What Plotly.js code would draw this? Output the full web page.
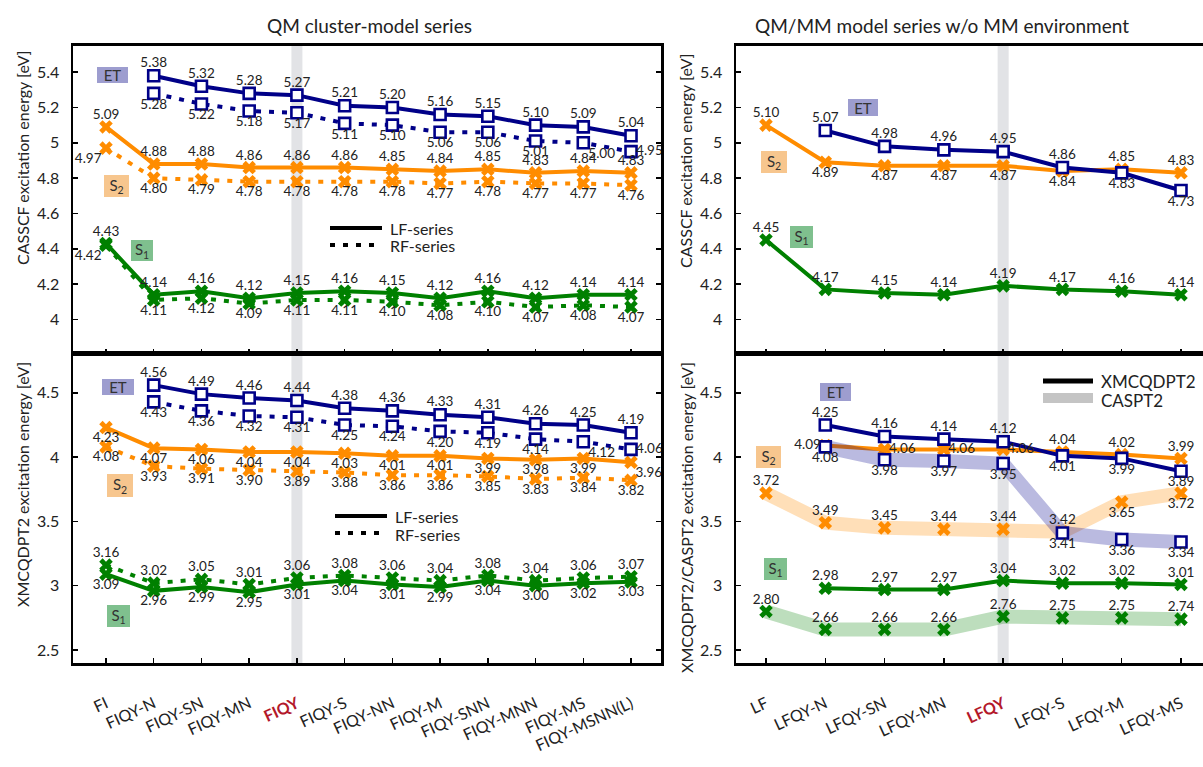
<!DOCTYPE html>
<html><head><meta charset="utf-8">
<script src="https://cdn.plot.ly/plotly-3.0.1.min.js"></script>
<style>html,body{margin:0;padding:0;background:#fff}</style>
</head><body><div id="chart" style="width:1203px;height:767px"></div>
<script>
// ---------------- DATA ----------------
const clusterCats = ['FI','FIQY-N','FIQY-SN','FIQY-MN','FIQY','FIQY-S','FIQY-NN','FIQY-M','FIQY-SNN','FIQY-MNN','FIQY-MS','FIQY-MSNN(L)'];
const qmmmCats = ['LF','LFQY-N','LFQY-SN','LFQY-MN','LFQY','LFQY-S','LFQY-M','LFQY-MS'];
const clusterRef = 'FIQY';
const qmmmRef = 'LFQY';

// QM cluster, CASSCF
const casET_LF = [null,5.38,5.32,5.28,5.27,5.21,5.20,5.16,5.15,5.10,5.09,5.04];
const casET_RF = [null,5.28,5.22,5.18,5.17,5.11,5.10,5.06,5.06,5.01,5.00,4.95];
const casS2_LF = [5.09,4.88,4.88,4.86,4.86,4.86,4.85,4.84,4.85,4.83,4.84,4.83];
const casS2_RF = [4.97,4.80,4.79,4.78,4.78,4.78,4.78,4.77,4.78,4.77,4.77,4.76];
const casS1_LF = [4.43,4.14,4.16,4.12,4.15,4.16,4.15,4.12,4.16,4.12,4.14,4.14];
const casS1_RF = [4.42,4.11,4.12,4.09,4.11,4.11,4.10,4.08,4.10,4.07,4.08,4.07];

// QM cluster, XMCQDPT2
const xmcET_LF = [null,4.56,4.49,4.46,4.44,4.38,4.36,4.33,4.31,4.26,4.25,4.19];
const xmcET_RF = [null,4.43,4.36,4.32,4.31,4.25,4.24,4.20,4.19,4.14,4.12,4.06];
const xmcS2_LF = [4.23,4.07,4.06,4.04,4.04,4.03,4.01,4.01,3.99,3.98,3.99,3.96];
const xmcS2_RF = [4.08,3.93,3.91,3.90,3.89,3.88,3.86,3.86,3.85,3.83,3.84,3.82];
const xmcS1_LF = [3.09,2.96,2.99,2.95,3.01,3.04,3.01,2.99,3.04,3.00,3.02,3.03];
const xmcS1_RF = [3.16,3.02,3.05,3.01,3.06,3.08,3.06,3.04,3.08,3.04,3.06,3.07];

// QM/MM w/o MM, CASSCF
const mmCasET = [null,5.07,4.98,4.96,4.95,4.86,4.83,4.73];
const mmCasS2 = [5.10,4.89,4.87,4.87,4.87,4.84,4.85,4.83];
const mmCasS1 = [4.45,4.17,4.15,4.14,4.19,4.17,4.16,4.14];

// QM/MM w/o MM, XMCQDPT2 and CASPT2
const mmXmcET = [null,4.25,4.16,4.14,4.12,4.01,3.99,3.89];
const mmXmcS2 = [null,4.09,4.06,4.06,4.06,4.04,4.02,3.99];
const mmXmcS1 = [null,2.98,2.97,2.97,3.04,3.02,3.02,3.01];
const mmPt2ET = [null,4.08,3.98,3.97,3.95,3.41,3.36,3.34];
const mmPt2S2 = [3.72,3.49,3.45,3.44,3.44,3.42,3.65,3.72];
const mmPt2S1 = [2.80,2.66,2.66,2.66,2.76,2.75,2.75,2.74];

// ---------------- STYLE ----------------
const F = 'Lato, "Open Sans", sans-serif';
const NAVY = '#000088', ORANGE = '#ff8c00', GREEN = '#008000';
const DOT = '5px,8px';
const W = 1203, H = 767;
const px = x => x / W, py = y => 1 - y / H;

function fill(n, def, over) { const a = Array(n).fill(def); for (const k in (over||{})) a[k] = over[k]; return a; }
const T = 'top center', B = 'bottom center';

const labelTraces = [];
function series(cats, vals, color, kind, dash, xa, ya, pos, mode) {
  labelTraces.push({
    type: 'scatter', mode: 'markers+text', x: cats, y: vals, xaxis: xa, yaxis: ya,
    marker: {size: kind === 'sq' ? 6.5 : 5.5, color: 'rgba(0,0,0,0)'},
    text: vals.map(v => v == null ? '' : v.toFixed(2)),
    textposition: pos, textfont: {family: F, size: 13.5, color: '#222'},
    cliponaxis: false, hoverinfo: 'skip', showlegend: false
  });
  return {
    type: 'scatter', mode: mode || 'lines+markers', x: cats, y: vals, xaxis: xa, yaxis: ya,
    line: {color: color, width: 4, dash: dash || 'solid'},
    marker: kind === 'sq'
      ? {symbol: 'square', size: 11, color: 'white', line: {color: color, width: 2.6}}
      : {symbol: 'x', size: 12, color: color, line: {width: 0}},
    cliponaxis: false, hoverinfo: 'skip', showlegend: false
  };
}
function band(cats, vals, color, xa, ya) {
  return {type: 'scatter', mode: 'lines', x: cats, y: vals, xaxis: xa, yaxis: ya,
    line: {color: color, width: 14}, hoverinfo: 'skip', showlegend: false};
}
function marks(cats, vals, color, kind, xa, ya, pos) {
  return series(cats, vals, color, kind, 'solid', xa, ya, pos, 'markers');
}

const n1 = clusterCats.length, n2 = qmmmCats.length;
const traces = [
  // top-left CASSCF
  series(clusterCats, casS1_RF, GREEN, 'x', DOT, 'x', 'y', fill(n1, B, {0: 'bottom left'})),
  series(clusterCats, casS1_LF, GREEN, 'x', 'solid', 'x', 'y', fill(n1, T)),
  series(clusterCats, casS2_RF, ORANGE, 'x', DOT, 'x', 'y', fill(n1, B, {0: 'bottom left'})),
  series(clusterCats, casS2_LF, ORANGE, 'x', 'solid', 'x', 'y', fill(n1, T)),
  series(clusterCats, casET_RF, NAVY, 'sq', DOT, 'x', 'y', fill(n1, B, {10: 'bottom right', 11: 'middle right'})),
  series(clusterCats, casET_LF, NAVY, 'sq', 'solid', 'x', 'y', fill(n1, T)),
  // bottom-left XMCQDPT2
  series(clusterCats, xmcS1_RF, GREEN, 'x', DOT, 'x2', 'y2', fill(n1, T)),
  series(clusterCats, xmcS1_LF, GREEN, 'x', 'solid', 'x2', 'y2', fill(n1, B)),
  series(clusterCats, xmcS2_RF, ORANGE, 'x', DOT, 'x2', 'y2', fill(n1, B)),
  series(clusterCats, xmcS2_LF, ORANGE, 'x', 'solid', 'x2', 'y2', fill(n1, B, {11: 'bottom right'})),
  series(clusterCats, xmcET_RF, NAVY, 'sq', DOT, 'x2', 'y2', fill(n1, B, {10: 'bottom right', 11: 'middle right'})),
  series(clusterCats, xmcET_LF, NAVY, 'sq', 'solid', 'x2', 'y2', fill(n1, T)),
  // top-right CASSCF
  series(qmmmCats, mmCasS1, GREEN, 'x', 'solid', 'x3', 'y3', fill(n2, T)),
  series(qmmmCats, mmCasS2, ORANGE, 'x', 'solid', 'x3', 'y3', fill(n2, B, {0: T, 6: T, 7: T})),
  series(qmmmCats, mmCasET, NAVY, 'sq', 'solid', 'x3', 'y3', fill(n2, T, {6: B, 7: B})),
  // bottom-right XMCQDPT2 + CASPT2
  series(qmmmCats, mmXmcS1, GREEN, 'x', 'solid', 'x4', 'y4', fill(n2, T)),
  series(qmmmCats, mmXmcS2, ORANGE, 'x', 'solid', 'x4', 'y4', fill(n2, 'middle right', {1: 'middle left', 5: T, 6: T, 7: T})),
  series(qmmmCats, mmXmcET, NAVY, 'sq', 'solid', 'x4', 'y4', fill(n2, T, {5: B, 6: B, 7: B})),
  band(qmmmCats, mmPt2S1, 'rgba(0,128,0,0.26)', 'x4', 'y4'),
  band(qmmmCats, mmPt2S2, 'rgba(255,140,0,0.28)', 'x4', 'y4'),
  band(qmmmCats, mmPt2ET, 'rgba(0,0,140,0.27)', 'x4', 'y4'),
  marks(qmmmCats, mmPt2S1, GREEN, 'x', 'x4', 'y4', fill(n2, T)),
  marks(qmmmCats, mmPt2S2, ORANGE, 'x', 'x4', 'y4', fill(n2, T, {6: B, 7: B})),
  marks(qmmmCats, mmPt2ET, NAVY, 'sq', 'x4', 'y4', fill(n2, B))
].concat(labelTraces);

// ---------------- AXES ----------------
const LX = [px(73), px(661)], RX = [px(736), 1];
const TY = [py(353.5), py(45.5)], BY = [py(663), py(353.5)];
const redLabel = s => '<b><span style="color:#b3182a">' + s + '</span></b>';

function xax(domain, anchor, cats, ref, range, labels) {
  return {domain: domain, anchor: anchor, type: 'category', range: range,
    tickmode: 'array', tickvals: cats, ticktext: cats.map(c => c === ref ? redLabel(c) : c),
    showticklabels: labels, tickangle: -25, ticklabelstandoff: 23,
    tickfont: {family: F, size: 16, color: '#222'},
    ticks: 'inside', ticklen: 5, tickwidth: 1.5, tickcolor: '#000',
    showline: true, mirror: true, linewidth: 2.5, linecolor: '#000',
    showgrid: false, zeroline: false, fixedrange: true};
}
function yax(domain, anchor, range, dtick, mirror) {
  return {domain: domain, anchor: anchor, range: range, dtick: dtick, tick0: 0,
    tickfont: {family: F, size: 16, color: '#222'}, ticklabelstandoff: 8,
    ticks: 'inside', ticklen: 5, tickwidth: 1.5, tickcolor: '#000',
    showline: true, mirror: mirror, linewidth: 2.5, linecolor: '#000',
    showgrid: false, zeroline: false, fixedrange: true};
}
const cRange = [-0.691, 11.628], mRange = [-0.506, 7.371];
const topR = [3.807, 5.551], botR = [2.399, 4.806];

// ---------------- ANNOTATIONS / SHAPES ----------------
function txt(x, y, s, size, extra) {
  return Object.assign({xref: 'paper', yref: 'paper', x: px(x), y: py(y), text: s, showarrow: false,
    font: {family: F, size: size, color: '#222'}, xanchor: 'center', yanchor: 'middle'}, extra || {});
}
function box(x, y, s, w, h, bg) {
  return txt(x, y, s, 15, {bgcolor: bg, width: w, height: h, borderpad: 0, borderwidth: 0,
    font: {family: F, size: 15, color: '#333'}});
}
const ETC = '#9d9dcf', S2C = '#f7c68e', S1C = '#7fc08e';
const annotations = [
  txt(369, 25, 'QM cluster-model series', 19),
  txt(942, 25, 'QM/MM model series w/o MM environment', 19),
  txt(22, 158, 'CASSCF excitation energy [eV]', 16, {textangle: -90}),
  txt(22, 485, 'XMCQDPT2 excitation energy [eV]', 16, {textangle: -90}),
  txt(686, 161, 'CASSCF excitation energy [eV]', 16, {textangle: -90}),
  txt(686, 518, 'XMCQDPT2/CASPT2 excitation energy [eV]', 16, {textangle: -90}),
  box(112, 75, 'ET', 31, 16, ETC), box(117, 186, 'S<sub>2</sub>', 25, 22, S2C), box(142, 250, 'S<sub>1</sub>', 22, 21, S1C),
  box(118, 387, 'ET', 32, 16, ETC), box(120, 485, 'S<sub>2</sub>', 26, 23, S2C), box(118, 616, 'S<sub>1</sub>', 23, 22, S1C),
  box(863, 107, 'ET', 30, 17, ETC), box(774, 162, 'S<sub>2</sub>', 26, 22, S2C), box(801, 237, 'S<sub>1</sub>', 23, 22, S1C),
  box(835, 392, 'ET', 31, 18, ETC), box(768, 457, 'S<sub>2</sub>', 25, 22, S2C), box(775, 569, 'S<sub>1</sub>', 23, 22, S1C),
  txt(388, 228, 'LF-series', 16, {xanchor: 'left'}),
  txt(388, 246, 'RF-series', 16, {xanchor: 'left'}),
  txt(393, 516, 'LF-series', 16, {xanchor: 'left'}),
  txt(393, 534, 'RF-series', 16, {xanchor: 'left'}),
  txt(1099, 381, 'XMCQDPT2', 17, {xanchor: 'left'}),
  txt(1099, 400, 'CASPT2', 17, {xanchor: 'left'})
];
function hline(x0, x1, y, width, color, dash) {
  return {type: 'line', xref: 'paper', yref: 'paper', x0: px(x0), x1: px(x1), y0: py(y), y1: py(y),
    line: {color: color, width: width, dash: dash || 'solid'}};
}
const refIdxC = clusterCats.indexOf(clusterRef), refIdxM = qmmmCats.indexOf(qmmmRef);
const shapes = [
  {type: 'rect', xref: 'x', yref: 'paper', x0: refIdxC - 0.115, x1: refIdxC + 0.115, y0: BY[0], y1: TY[1],
    fillcolor: '#e2e3e6', line: {width: 0}, layer: 'below'},
  {type: 'rect', xref: 'x3', yref: 'paper', x0: refIdxM - 0.093, x1: refIdxM + 0.093, y0: BY[0], y1: TY[1],
    fillcolor: '#e2e3e6', line: {width: 0}, layer: 'below'},
  hline(330, 382, 228, 4, '#000'), hline(330, 382, 245, 4, '#000', DOT),
  hline(335, 387, 516, 4, '#000'), hline(335, 387, 533, 4, '#000', DOT),
  hline(1043, 1093, 381, 5, '#000'), hline(1043, 1093, 398, 10, '#c4c4c4')
];

const layout = {
  width: W, height: H, margin: {l: 0, r: 0, t: 0, b: 0},
  paper_bgcolor: '#fff', plot_bgcolor: 'rgba(0,0,0,0)', showlegend: false,
  font: {family: F, color: '#222'},
  xaxis: xax(LX, 'y', clusterCats, clusterRef, cRange, false),
  yaxis: yax(TY, 'x', topR, 0.2, 'ticks'),
  xaxis2: xax(LX, 'y2', clusterCats, clusterRef, cRange, true),
  yaxis2: yax(BY, 'x2', botR, 0.5, 'ticks'),
  xaxis3: xax(RX, 'y3', qmmmCats, qmmmRef, mRange, false),
  yaxis3: yax(TY, 'x3', topR, 0.2, false),
  xaxis4: xax(RX, 'y4', qmmmCats, qmmmRef, mRange, true),
  yaxis4: yax(BY, 'x4', botR, 0.5, false),
  annotations: annotations, shapes: shapes
};
Plotly.newPlot('chart', traces, layout, {displayModeBar: false, staticPlot: true});
</script></body></html>
